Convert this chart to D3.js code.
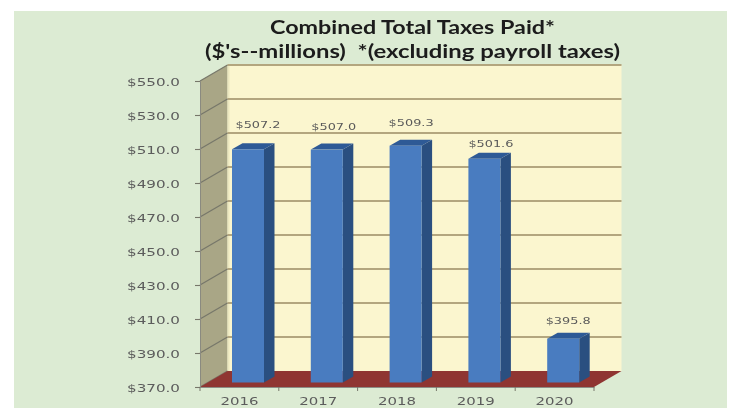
<!DOCTYPE html>
<html><head><meta charset="utf-8">
<script src="https://cdn.jsdelivr.net/npm/d3@7"></script>
<style>html,body{margin:0;padding:0;background:#fff}svg{display:block}</style>
</head><body><svg id="c" width="739" height="408"></svg>
<script>
const categories = ["2016","2017","2018","2019","2020"];
const values = [507.2,507.0,509.3,501.6,395.8];
const valueLabels = ["$507.2","$507.0","$509.3","$501.6","$395.8"];
const yTicks = [370,390,410,430,450,470,490,510,530,550];
const titleLines = ["Combined Total Taxes Paid*","($'s--millions)  *(excluding payroll taxes)"];
// hand-placed label nudges, kept apart from the data
const labelGaps = [23,22,22,14,17];
const labelShift = [10,7,5.5,6.5,5];

const svg = d3.select("#c");
const defs = svg.append("defs");
defs.append("filter").attr("id","soft").attr("x","-5%").attr("y","-5%").attr("width","110%").attr("height","110%")
  .append("feGaussianBlur").attr("stdDeviation",0.45);
const g = svg.append("g").attr("filter","url(#soft)");

g.append("rect").attr("x",14).attr("y",11).attr("width",713).attr("height",397).attr("fill","#dcebd3");

const x = d3.scaleBand().domain(categories).range([200,594]);
const y = d3.scaleLinear().domain([370,550]).range([387,81]);
const DX = 27.5, DY = 16;
const poly = pts => pts.map(p=>p.join(",")).join(" ");
const [x0,x1] = x.range();
const yb = y(370), yt = y(550);

// back wall
g.append("polygon").attr("points",poly([[x0+DX,yt-DY],[x1+DX,yt-DY],[x1+DX,yb-DY],[x0+DX,yb-DY]])).attr("fill","#fbf6cf");
// left wall
g.append("polygon").attr("points",poly([[x0,yt],[x0+DX,yt-DY],[x0+DX,yb-DY],[x0,yb]])).attr("fill","#a9a686");
g.append("line").attr("x1",x0+DX+1).attr("x2",x0+DX+1).attr("y1",yt-DY).attr("y2",yb-DY).attr("stroke","#ece7c0").attr("stroke-width",2);
// grid
yTicks.forEach(t=>{
  const v=y(t);
  if(t>370) g.append("line").attr("x1",x0+DX).attr("x2",x1+DX).attr("y1",v-DY).attr("y2",v-DY).attr("stroke","#b3a67f").attr("stroke-width",1.8);
  g.append("line").attr("x1",x0).attr("x2",x0+DX).attr("y1",v).attr("y2",v-DY).attr("stroke","#77776a").attr("stroke-width",1.2);
});
// floor
g.append("polygon").attr("points",poly([[x0,yb],[x1,yb],[x1+DX,yb-DY],[x0+DX,yb-DY]])).attr("fill","#8f3432");

// axes
const yAxis = d3.axisLeft(y).tickValues(yTicks).tickSize(5).tickPadding(15).tickFormat(d=>"$"+d3.format(".1f")(d));
const ya = g.append("g").attr("transform",`translate(${x0},0)`).call(yAxis);
ya.select(".domain").attr("stroke","#8a8a80");
ya.selectAll(".tick line").attr("stroke","#77776a").attr("stroke-width",1.1);
ya.selectAll("text").attr("font-family","DejaVu Sans").attr("font-size",11).attr("fill","#5c5c5c")
  .attr("textLength",53).attr("lengthAdjust","spacingAndGlyphs").attr("dy","0.42em");

const xa = g.append("g").attr("transform",`translate(0,${yb})`).call(d3.axisBottom(x).tickSizeInner(4).tickSizeOuter(0));
xa.select(".domain").attr("stroke","#8d8d85").attr("stroke-width",1.2);
xa.selectAll(".tick line").attr("stroke","#77776a").attr("transform",`translate(${x.bandwidth()/2},0)`);
g.append("line").attr("x1",x0).attr("x2",x0).attr("y1",yb).attr("y2",yb+4).attr("stroke","#77776a");
xa.selectAll("text").attr("font-family","DejaVu Sans").attr("font-size",10.5).attr("fill","#5c5c5c")
  .attr("y",18.4).attr("dy",0).attr("textLength",38).attr("lengthAdjust","spacingAndGlyphs");

// bars
const BW = 32, OX = 8.6, OY = 4.5, SX = 10.5, SY = 6;
const bars = g.selectAll(".bar").data(categories.map((c,i)=>({c,v:values[i],l:valueLabels[i],i}))).join("g").attr("class","bar");
const bl = d=>x(d.c)+x.bandwidth()/2+OX-BW/2;
bars.append("polygon").attr("fill","#2b5080").attr("points",d=>{const l=bl(d)+BW,t=y(d.v)-OY,b=yb-OY;return poly([[l,t],[l+SX,t-SY],[l+SX,b-SY],[l,b]]);});
bars.append("polygon").attr("fill","#2f5a96").attr("points",d=>{const l=bl(d),t=y(d.v)-OY;return poly([[l,t],[l+BW,t],[l+BW+SX,t-SY],[l+SX,t-SY]]);});
bars.append("rect").attr("fill","#4a7cc0").attr("x",bl).attr("y",d=>y(d.v)-OY).attr("width",BW).attr("height",d=>yb-y(d.v));
bars.append("text").text(d=>d.l).attr("x",d=>bl(d)+BW/2+labelShift[d.i]).attr("y",d=>y(d.v)-OY-labelGaps[d.i]+2)
  .attr("text-anchor","middle").attr("font-family","DejaVu Sans").attr("font-size",9.5).attr("fill","#5a5a5a")
  .attr("textLength",45).attr("lengthAdjust","spacingAndGlyphs");

// title
const titleWidths = [285,415];
g.selectAll(".title").data(titleLines).join("text").attr("class","title").text(d=>d)
  .attr("x",412.5).attr("y",(d,i)=>33.5+i*24).attr("text-anchor","middle")
  .attr("font-family","Lato").attr("font-weight",700).attr("font-size",19.8).attr("fill","#1b1b1b").style("white-space","pre")
  .attr("textLength",(d,i)=>titleWidths[i]).attr("lengthAdjust","spacingAndGlyphs");
</script></body></html>
